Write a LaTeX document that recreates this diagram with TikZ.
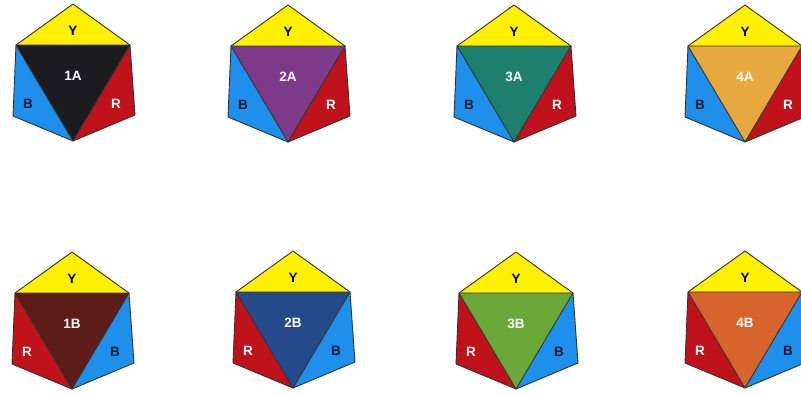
\documentclass[tikz,border=0pt]{standalone}
\usepackage{fontspec}
\setmainfont{Liberation Sans}
\definecolor{gyel}{HTML}{FFF000}
\definecolor{gblue}{HTML}{1E8FEA}
\definecolor{gred}{HTML}{C0121A}
\definecolor{cA}{HTML}{1C1C1E}
\definecolor{cB}{HTML}{7D3A8A}
\definecolor{cC}{HTML}{1E7F6E}
\definecolor{cD}{HTML}{E8A840}
\definecolor{cE}{HTML}{5C1C18}
\definecolor{cF}{HTML}{244A8C}
\definecolor{cG}{HTML}{6BA83A}
\definecolor{cH}{HTML}{D6642C}
\definecolor{navy}{HTML}{101830}
\tikzset{
  facet/.style={draw=black!80, line width=0.9pt, line join=round},
  lbl/.style={font=\fontsize{13.5}{13.5}\selectfont\bfseries, inner sep=0pt},
}
% #1 name, #2 x, #3 y (top apex), #4 centre colour, #5 centre label,
% #6 left colour, #7 left label, #8 left label colour, #9 right colour
\newcommand\gemdraw[9]{%
  \begin{scope}[shift={(#2,#3)}]
    \coordinate (#1T) at (0,0);
    \coordinate (#1UL) at (-57,41);
    \coordinate (#1UR) at (57,41);
    \coordinate (#1LL) at (-60,112);
    \coordinate (#1LR) at (62,111);
    \coordinate (#1Bo) at (0,137);
    \fill[gyel] (#1T) -- (#1UR) -- (#1UL) -- cycle;
    \fill[#6] (#1UL) -- (#1Bo) -- (#1LL) -- cycle;
    \fill[#9] (#1UR) -- (#1LR) -- (#1Bo) -- cycle;
    \fill[#4] (#1UL) -- (#1UR) -- (#1Bo) -- cycle;
    \draw[facet] (#1T) -- (#1UR) -- (#1LR) -- (#1Bo) -- (#1LL) -- (#1UL) -- cycle;
    \draw[facet] (#1UL) -- (#1UR) -- (#1Bo) -- cycle;
    \node[lbl, text=black] (#1y) at (0,27) {Y};
    \node[lbl, text=white] (#1c) at (0,72) {#5};
    \node[lbl, text=#8] (#1l) at (-45,100) {#7};
    \node[lbl, text=\gemrc] (#1r) at (43,100) {\gemrl};
  \end{scope}%
}
\begin{document}
\begin{tikzpicture}[x=1pt,y=-1pt]
\useasboundingbox (0,0) rectangle (801,394);
\clip (0,0) rectangle (801,394);
\fill[white] (0,0) rectangle (801,394);
% top row: left blue B, right red R
\def\gemrl{R}\def\gemrc{white}
\gemdraw{a}{73}{4}{cA}{1A}{gblue}{B}{navy}{gred}
\gemdraw{b}{288}{5}{cB}{2A}{gblue}{B}{navy}{gred}
\gemdraw{c}{514}{5}{cC}{3A}{gblue}{B}{navy}{gred}
\gemdraw{d}{745}{5}{cD}{4A}{gblue}{B}{navy}{gred}
% bottom row: left red R, right blue B
\def\gemrl{B}\def\gemrc{navy}
\gemdraw{e}{72}{252}{cE}{1B}{gred}{R}{white}{gblue}
\gemdraw{f}{293}{251}{cF}{2B}{gred}{R}{white}{gblue}
\gemdraw{g}{516}{252}{cG}{3B}{gred}{R}{white}{gblue}
\gemdraw{h}{745}{251}{cH}{4B}{gred}{R}{white}{gblue}
\end{tikzpicture}
\end{document}
